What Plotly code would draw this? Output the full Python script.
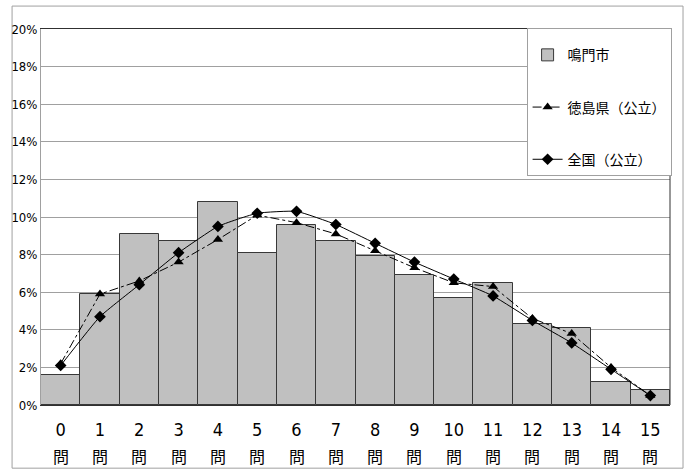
import plotly.graph_objects as go

# 正答数（0問〜15問）ごとの児童生徒の割合（%）
categories = [str(i) for i in range(16)]
naruto = [1.6, 5.9, 9.1, 8.7, 10.8, 8.1, 9.6, 8.7, 7.9, 6.9, 5.7, 6.5, 4.3, 4.1, 1.2, 0.8]
tokushima = [2.2, 5.9, 6.6, 7.6, 8.8, 10.1, 9.7, 9.1, 8.2, 7.3, 6.5, 6.3, 4.6, 3.8, 2.0, 0.5]
zenkoku = [2.1, 4.7, 6.4, 8.1, 9.5, 10.2, 10.3, 9.6, 8.6, 7.6, 6.7, 5.8, 4.5, 3.3, 1.9, 0.5]
y_ticks = list(range(0, 21, 2))
y_tick_text = [f"{v}%" for v in y_ticks]
unit_label = "問"

JP_FONT = "Noto Sans CJK JP"
NUM_FONT = "Liberation Sans Narrow, DejaVu Sans Condensed, Liberation Sans, sans-serif"

fig = go.Figure()

fig.add_trace(go.Bar(
    x=categories, y=naruto, name="鳴門市",
    marker=dict(color="#c0c0c0", line=dict(color="#383838", width=1)),
    legendgroup="a",
))
fig.add_trace(go.Scatter(
    x=categories, y=tokushima, name="徳島県（公立）", mode="lines+markers",
    line=dict(color="black", width=1, dash="dashdot"),
    marker=dict(symbol="triangle-up", size=9, color="black"),
    legendgroup="b",
))
fig.add_trace(go.Scatter(
    x=categories, y=zenkoku, name="全国（公立）", mode="lines+markers",
    line=dict(color="black", width=1, shape="spline", smoothing=0.4),
    marker=dict(symbol="diamond", size=9, color="black"),
    legendgroup="c",
))

# second row of the category labels
for c in categories:
    fig.add_annotation(
        x=c, xref="x", y=-0.136, yref="paper", text=unit_label, showarrow=False,
        font=dict(family=JP_FONT, size=16, color="black"), yanchor="middle",
    )

# outer chart frame
fig.add_shape(type="rect", xref="paper", yref="paper",
              x0=-0.046, x1=1.0207, y0=-0.168, y1=1.061,
              line=dict(color="#a0a0a0", width=1), layer="below")
# right edge of the plot area
fig.add_shape(type="line", xref="paper", yref="paper", x0=1, x1=1, y0=0, y1=1,
              line=dict(color="#303030", width=1))

fig.update_layout(
    width=686, height=471,
    margin=dict(l=41, r=16, t=29, b=66, autoexpand=False),
    paper_bgcolor="white", plot_bgcolor="white",
    bargap=0,
    showlegend=True,
    legend=dict(
        x=0.772, y=1.003, xanchor="left", yanchor="top",
        bgcolor="white", bordercolor="#a0a0a0", borderwidth=1,
        font=dict(family=JP_FONT, size=14, color="black"),
        title=dict(text=" ", font=dict(size=8)),
        tracegroupgap=31, itemwidth=30,
    ),
    xaxis=dict(
        type="category", range=[-0.5, 15.5], showgrid=False, ticks="",
        showline=True, linecolor="#303030", linewidth=1, mirror=True,
        tickfont=dict(family=NUM_FONT, size=18, color="black"),
        ticklabelstandoff=8,
    ),
    yaxis=dict(
        range=[0, 20], tickvals=y_ticks, ticktext=y_tick_text,
        showgrid=True, gridcolor="#a0a0a0", gridwidth=1,
        showline=True, linecolor="#a0a0a0", linewidth=1,
        zeroline=False, ticks="",
        tickfont=dict(family=NUM_FONT, size=13, color="black"),
    ),
)

fig.write_html("out.html")
